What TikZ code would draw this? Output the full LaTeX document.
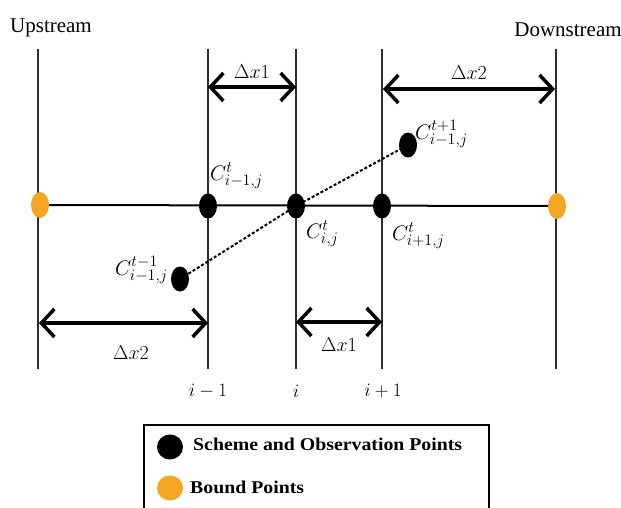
\RequirePackage{fix-cm}
\documentclass[tikz,border=0pt]{standalone}
\usepackage{fontspec}
\setmainfont{Liberation Serif}
\DeclareMathSizes{21}{21}{16}{12}
\DeclareMathSizes{20}{20}{15}{12}
\usetikzlibrary{arrows.meta,shapes.geometric,backgrounds}
\definecolor{boundc}{RGB}{246,166,35}
\definecolor{gridc}{RGB}{45,45,45}
\begin{document}
\begin{tikzpicture}[x=1pt,y=-1pt,
  gridline/.style={draw=gridc, line width=1.5pt},
  axisline/.style={draw=black, line width=2pt},
  dimarrow/.style={line width=3.5pt, {Straight Barb[length=13pt,width=28pt]}-{Straight Barb[length=13pt,width=28pt]}},
  blackpt/.style={ellipse, fill=black, minimum width=18pt, minimum height=25pt, inner sep=0pt},
  boundpt/.style={ellipse, fill=boundc, minimum width=18pt, minimum height=26pt, inner sep=0pt},
  mathlbl/.style={font=\fontsize{20}{24}\selectfont, inner sep=0pt},
  clbl/.style={font=\fontsize{21}{24}\selectfont, inner sep=0pt},
  idxlbl/.style={font=\fontsize{19}{22}\selectfont, inner sep=0pt},
  headlbl/.style={font=\fontsize{21}{24}\selectfont, inner sep=0pt, anchor=base},
  legtxt/.style={font=\fontsize{18}{22}\selectfont\bfseries, inner sep=0pt, anchor=west, xscale=1.1},
  dotline/.style={line width=2pt, dash pattern=on 3pt off 2pt}
]
\useasboundingbox (0,0) rectangle (621,508);
% grid coordinates
\foreach \n/\x in {up/38, im/208, ii/296, ip/382, dn/556}{
  \coordinate (\n top) at (\x,49);
  \coordinate (\n bot) at (\x,369);
}
% points
\node[boundpt] (bl) at (40,205) {};
\node[boundpt] (br) at (557,206) {};
\node[blackpt] (pim) at (208,206) {};
\node[blackpt] (pii) at (296,206) {};
\node[blackpt] (pip) at (382,206) {};
\node[blackpt] (plow) at (180,279) {};
\node[blackpt] (pup) at (408,145) {};
\begin{scope}[on background layer]
  \foreach \n in {up,im,ii,ip,dn}{ \draw[gridline] (\n top) -- (\n bot); }
  \draw[axisline] (bl.center) -- (br.center);
  \draw[dotline] (plow.center) -- (pii.center) -- (pup.center);
\end{scope}
% headers
\node[headlbl] (hup) at (51,33) {Upstream};
\node[headlbl] (hdn) at (568,37) {Downstream};
% dimension arrows
\coordinate (a1s) at (208,87); \coordinate (a1e) at (296,87);
\draw[dimarrow] (a1s) -- (a1e);
\node[mathlbl] (l1) at (252,72) {$\Delta x1$};
\coordinate (a2s) at (383,89); \coordinate (a2e) at (555,89);
\draw[dimarrow] (a2s) -- (a2e);
\node[mathlbl] (l2) at (469,73) {$\Delta x2$};
\coordinate (a3s) at (39,323); \coordinate (a3e) at (208,323);
\draw[dimarrow] (a3s) -- (a3e);
\node[mathlbl] (l3) at (131,353) {$\Delta x2$};
\coordinate (a4s) at (296,322); \coordinate (a4e) at (382,322);
\draw[dimarrow] (a4s) -- (a4e);
\node[mathlbl] (l4) at (339,345) {$\Delta x1$};
% point labels
\node[clbl, anchor=west] (cim) at (210,176) {$C^{t}_{i-1,j}$};
\node[clbl, anchor=west] (cii) at (306,234) {$C^{t}_{i,j}$};
\node[clbl, anchor=west] (cip) at (392,236) {$C^{t}_{i+1,j}$};
\node[clbl, anchor=east] (clow) at (168,270) {$C^{t-1}_{i-1,j}$};
\node[clbl, anchor=west] (cup) at (415,134) {$C^{t+1}_{i-1,j}$};
% index labels
\node[idxlbl] (iim) at (208,391) {$i-1$};
\node[idxlbl] (iii) at (296,391) {$i$};
\node[idxlbl] (iip) at (383,391) {$i+1$};
% legend
\draw[line width=1.5pt] (144,425) rectangle (489,516);
\node[ellipse, fill=black, minimum width=26pt, minimum height=25pt, inner sep=0pt] (lgb) at (170,447) {};
\node[ellipse, fill=boundc, minimum width=26pt, minimum height=25pt, inner sep=0pt] (lgo) at (170,488) {};
\node[legtxt] (lt1) at (193,444) {Scheme and Observation Points};
\node[legtxt] (lt2) at (190,487) {Bound Points};
\end{tikzpicture}
\end{document}
